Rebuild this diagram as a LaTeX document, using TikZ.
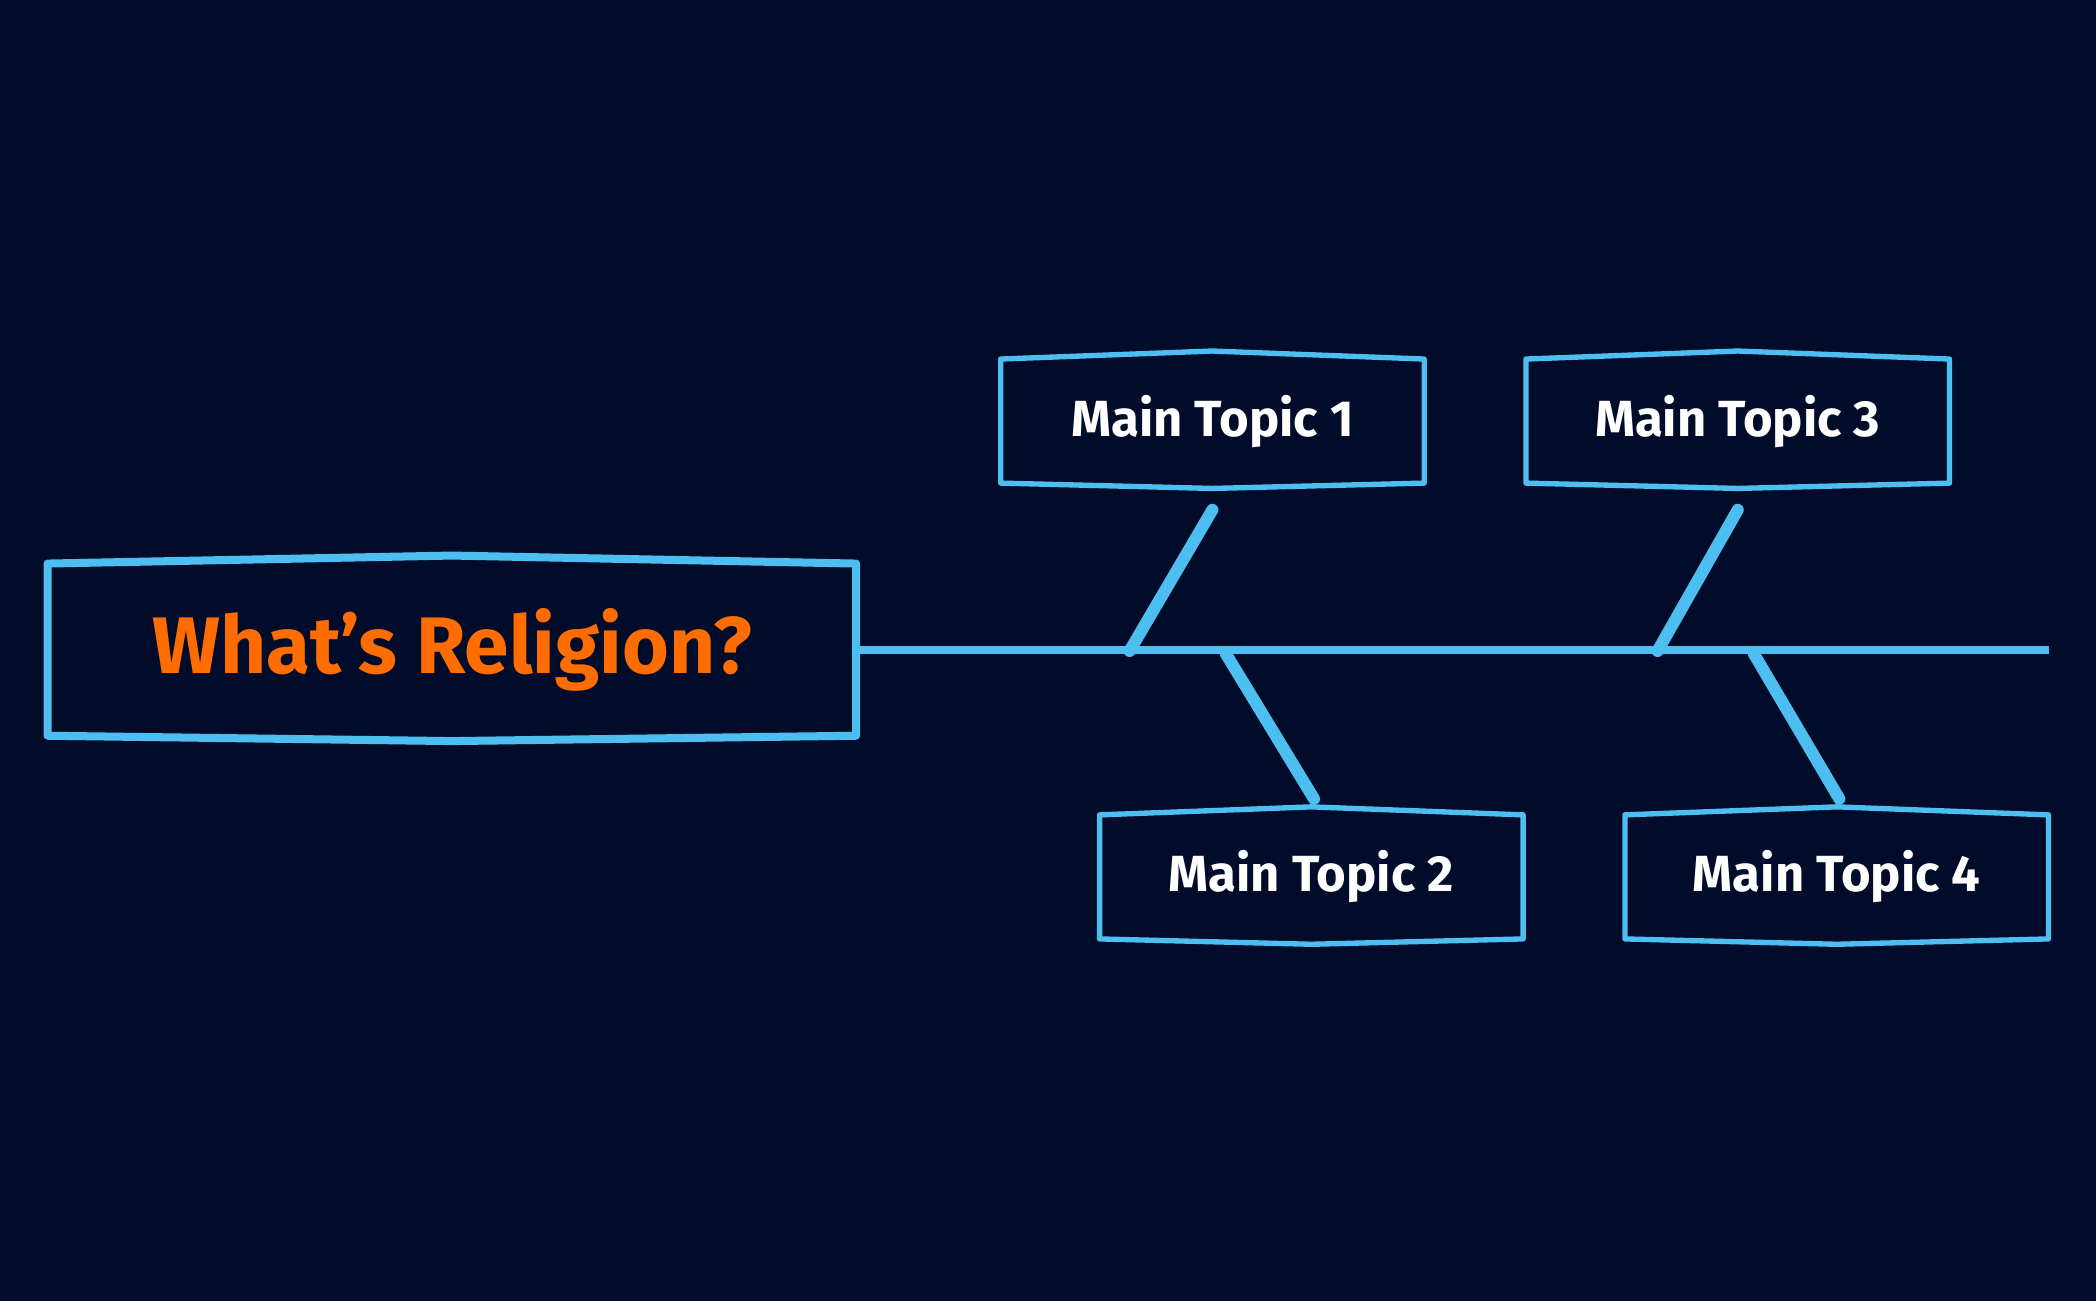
\documentclass[tikz,border=0pt]{standalone}
\usepackage{fontspec}
\setmainfont{Fira Sans}
\usetikzlibrary{calc}
\definecolor{bg}{HTML}{000C2A}
\definecolor{sk}{HTML}{4CBFF0}
\definecolor{og}{HTML}{FF6D00}
\tikzset{
  box/.style={draw=none,inner sep=0pt},
  outl/.style={draw=sk,line width=2pt,line join=round},
  bone/.style={draw=sk,line width=4.5pt,line cap=round},
  topic/.style={box,text=white,font=\fontsize{19}{22}\selectfont\bfseries,minimum width=158pt,minimum height=46pt},
}
\newcommand{\hexbox}[2][2pt]{%
  \draw[outl,line width=#1] (#2.north west) -- ($(#2.north)+(0,3pt)$) -- (#2.north east) -- (#2.south east) -- ($(#2.south)+(0,-2pt)$) -- (#2.south west) -- cycle;}
\begin{document}
\begin{tikzpicture}[x=0.5pt,y=-0.5pt]
\fill[bg] (0,0) rectangle (1568,973);
\useasboundingbox (0,0) rectangle (1568,973);
\node[box,text=og,font=\fontsize{30}{34}\selectfont\bfseries,minimum width=302pt,minimum height=64pt] (head) at (338,486) {What's Religion?};
\hexbox[3pt]{head}
\node[topic] (t1) at (907,315) {Main Topic 1};
\node[topic] (t3) at (1300,315) {Main Topic 3};
\node[topic] (t2) at (981,656) {Main Topic 2};
\node[topic] (t4) at (1374,656) {Main Topic 4};
\foreach \n in {t1,t2,t3,t4}{\hexbox{\n}}
\coordinate (e) at (1533,486);
\coordinate (a1) at (845,487);
\coordinate (a2) at (917,489);
\coordinate (a3) at (1240,487);
\coordinate (a4) at (1312,489);
\draw[draw=sk,line width=3pt] (head.east) -- (e);
\draw[bone] ($(t1.south)+(0,-10pt)$) -- (a1);
\draw[bone] (a2) -- ($(t2.north)+(2,6pt)$);
\draw[bone] ($(t3.south)+(0,-10pt)$) -- (a3);
\draw[bone] (a4) -- ($(t4.north)+(2,6pt)$);
\end{tikzpicture}
\end{document}
